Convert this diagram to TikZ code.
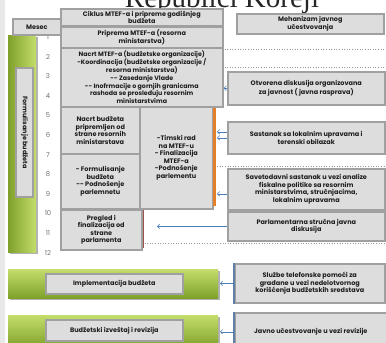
\documentclass[tikz,border=0pt]{standalone}
\usepackage{fontspec}
\usetikzlibrary{shadows,arrows.meta}
\newfontfamily\boxfont{Poppins}
\newfontfamily\titlefont{Liberation Serif}
\definecolor{boxgrey}{HTML}{DDDDDD}
\definecolor{bordergrey}{HTML}{A0A0A0}
\definecolor{textdark}{HTML}{1E1E1E}
\definecolor{greendark}{HTML}{7FA12B}
\definecolor{greenlight}{HTML}{C4DD6C}
\definecolor{arrowblue}{HTML}{4A7EBB}
\definecolor{orangebar}{HTML}{E4802A}
\definecolor{redline}{HTML}{A0504E}
\definecolor{slateblue}{HTML}{5F7FA6}
\definecolor{numgrey}{HTML}{707070}
\tikzset{
  gbox/.style={draw=bordergrey, line width=1.6pt, fill=boxgrey, text=textdark,
    font=\boxfont\bfseries\fontsize{6.5}{7.5}\selectfont, align=center, inner sep=0pt,
    anchor=north west,
    drop shadow={shadow xshift=1.4pt, shadow yshift=-1.4pt, fill=black, opacity=0.4}},
  greenv/.style={draw=none, top color=greenlight, bottom color=greendark, anchor=north west,
    inner sep=0pt, drop shadow={shadow xshift=1.4pt, shadow yshift=-1.4pt, fill=black, opacity=0.3}},
  greenh/.style={draw=none, left color=greendark, right color=greenlight, anchor=north west,
    inner sep=0pt, drop shadow={shadow xshift=1.4pt, shadow yshift=-1.4pt, fill=black, opacity=0.3}},
  num/.style={text=numgrey, font=\boxfont\fontsize{6.8}{7}\selectfont, inner sep=0pt},
  arr/.style={draw=arrowblue, line width=0.6pt, -{Straight Barb[length=2.2pt,width=4.5pt]}},
  grid/.style={draw=black!40, dotted, line width=0.6pt},
}
\begin{document}
\begin{tikzpicture}[x=1pt,y=-1pt]
\useasboundingbox (0,0) rectangle (386,343);
\clip (0,0) rectangle (386,343);
\fill[white] (0,0) rectangle (386,343);
\fill[black!9] (0,0) rectangle (5,343);

% title (cut off at top, as in the reference)
\node[anchor=base, text=black!85, font=\titlefont\fontsize{29}{30}\selectfont, inner sep=0pt] (title) at (222,7) {Republici Koreji};

% grid lines
\draw[grid] (222,49) -- (386,49);
\draw[grid] (222,67) -- (386,67);
\draw[grid] (212,166) -- (386,166);
\draw[grid] (142,243) -- (386,243);

% left green bar
\node[greenh, minimum width=28pt, minimum height=217pt] (gleft) at (8,35) {};
\node[gbox, rotate=-90, anchor=center, minimum width=129pt, minimum height=17pt] (formbud) at (24.5,132.5) {Formulisanje budžeta};

% month numbers
\foreach \k in {1,...,12} {
  \node[num] (n\k) at (48,{37+(\k-1)*19.6}) {\k};
}

% header boxes
\node[gbox, minimum width=48pt, minimum height=16pt] (mesec) at (12,18) {Mesec};
\node[gbox, minimum width=162pt, minimum height=17pt] (ciklus) at (60,8) {Ciklus MTEF-a i pripreme godišnjeg\\budžeta};
\node[gbox, minimum width=147pt, minimum height=20pt] (mehan) at (236,13) {Mehanizam javnog\\učestvovanja};

% budget cycle boxes
\node[gbox, minimum width=162pt, minimum height=21pt] (priprema) at (60,26) {Priprema MTEF-a  (resorna\\ministarstva)};
\node[gbox, minimum width=162pt, minimum height=59pt, font=\boxfont\bfseries\fontsize{6.3}{7.9}\selectfont] (nacrt) at (60,47) {Nacrt MTEF-a  (budžetske organizacije)\\-Koordinacija (budžetske organizacije /\\resorna ministarstva)\\-{}- Zasedanje Vlade\\-{}- Inofrmacije o gornjih granicama\\rashoda se prosleđuju resornim\\ministarstvima};
\node[gbox, minimum width=79pt, minimum height=47pt] (nacrtb) at (60,106) {Nacrt budžeta\\pripremljen od\\strane resornih\\ministarstava};
\node[gbox, minimum width=73pt, minimum height=102pt] (timski) at (139,106) {-Timski rad\\na MTEF-u\\- Finalizacija\\MTEF-a\\-Podnošenje\\parlementu};
\node[gbox, minimum width=79pt, minimum height=55pt] (formul) at (60,153) {- Formulisanje\\budžeta\\-{}- Podnošenje\\parlemnetu};
\node[gbox, minimum width=81pt, minimum height=40pt] (pregled) at (60,209) {Pregled i\\finalizacija od\\strane\\parlamenta};

% orange bar and red line
\fill[orangebar] (213,108) rectangle (216,206);
\coordinate (obar) at (217,160);
\draw[redline, line width=1.6pt] (pregled.north east) ++(1,1) -- ++(0,38);

% public participation boxes
\node[gbox, minimum width=157pt, minimum height=33pt] (otvorena) at (227,71) {Otvorena  diskusija organizovana\\za javnost ( javna rasprava)};
\node[gbox, minimum width=157pt, minimum height=32pt] (sastanak) at (227,121) {Sastanak sa lokalnim upravama i\\terenski obilazak};
\node[gbox, minimum width=157pt, minimum height=41pt] (savet) at (227,168) {Savetodavni sastanak u vezi analize\\fiskalne politike sa resornim\\ministarstvima, stručnjacima,\\lokalnim upravama};
\node[gbox, minimum width=157pt, minimum height=29pt] (parl) at (227,211) {Parlamentarna stručna javna\\diskusija};

% arrows
\draw[arr] (otvorena.west) -- (otvorena.west -| nacrt.east);
\draw[arr] (sastanak.west) ++(0,-6) -- ++(-10,0);
\draw[arr] (sastanak.west) -- (sastanak.west -| obar);
\draw[arr] (savet.west) ++(0,4.5) -- ++(-10,0);
\draw[arr] (parl.west) -- ++(-70,0);

% bottom rows
\node[greenv, minimum width=210pt, minimum height=29pt] (gimpl) at (8,269) {};
\node[gbox, minimum width=137pt, minimum height=20pt] (impl) at (45,273) {Implementacija budžeta};
\node[gbox, minimum width=150pt, minimum height=39pt] (sluzbe) at (234,263) {Službe telefonske pomoći za\\građane u vezi nedelotvornog\\korišćenja budžetskih sredstava};
\draw[slateblue, line width=1.6pt] (sluzbe.north west) -- (sluzbe.south west);

\node[greenv, minimum width=210pt, minimum height=32pt] (grev) at (8,315) {};
\node[gbox, minimum width=137pt, minimum height=21pt] (budz) at (45,319) {Budžetski izveštaj i revizija};
\node[gbox, minimum width=152pt, minimum height=38pt] (javno) at (234,312) {Javno učestvovanje u vezi revizije};
\draw[slateblue, line width=1.6pt] (javno.north west) -- (javno.south west);

\draw[arr] (sluzbe.west) -- ++(-14,0);
\draw[arr] (javno.west) -- ++(-14,0);
\end{tikzpicture}
\end{document}
